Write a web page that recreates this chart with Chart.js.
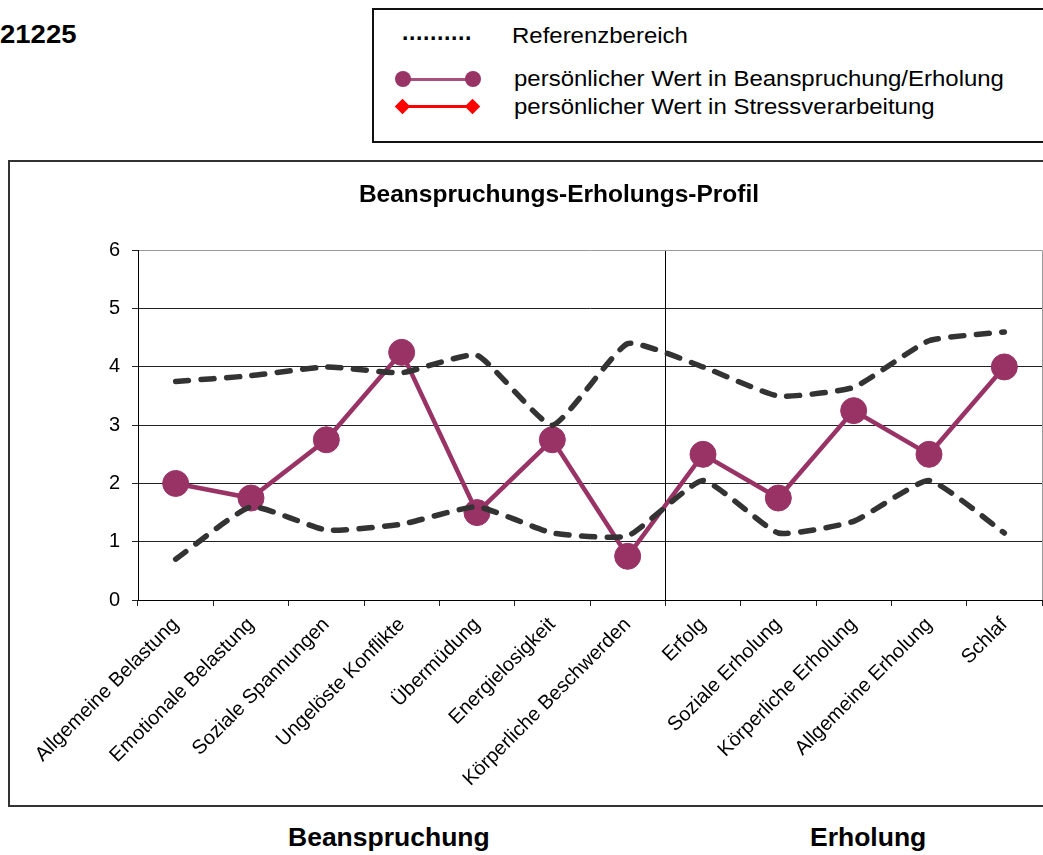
<!DOCTYPE html>
<html lang="de">
<head>
<meta charset="utf-8">
<title>Beanspruchungs-Erholungs-Profil</title>
<script src="https://cdn.jsdelivr.net/npm/chart.js@4.4.0/dist/chart.umd.min.js"></script>
<style>
  html, body { margin: 0; padding: 0; background: #fff; }
  body {
    position: relative; width: 1043px; height: 855px; overflow: hidden;
    font-family: "Liberation Sans", Arial, sans-serif; color: #000;
  }
  .abs { position: absolute; white-space: nowrap; }
  .stretch { transform: scaleX(1.1); transform-origin: left center; }
  #person-id { left: 0; top: 20px; font-size: 25px; font-weight: bold; }
  #legend-box {
    left: 372px; top: 8px; width: 720px; height: 135px;
    border: 2px solid #111; box-sizing: border-box;
  }
  .leg-text { font-size: 21.5px; line-height: 24px; transform: scaleX(1.115); transform-origin: left center; }
  .leg-line { height: 3px; }
  .leg-dot { width: 16px; height: 16px; border-radius: 50%; background: #993366; }
  .leg-diamond { width: 11px; height: 11px; background: #ff0000; transform: rotate(45deg); }
  #chart-box {
    left: 8px; top: 160px; width: 1102px; height: 647px;
    border: 2px solid #333; box-sizing: border-box;
  }
  #chart-wrap { left: 10px; top: 162px; width: 1098px; height: 643px; }
  .section { font-size: 26.5px; font-weight: bold; top: 822px; }
</style>
</head>
<body>
<div id="person-id" class="abs stretch">21225</div>

<div id="legend-box" class="abs"></div>
<div class="abs" style="left:402px; top:19px; font-size:23px; font-weight:bold; letter-spacing:0.6px;">..........</div>
<div class="abs leg-text" style="left:512px; top:24px;">Referenzbereich</div>

<div class="abs leg-line" style="left:403px; top:78px; width:70px; background:#a8507e;"></div>
<div class="abs leg-dot" style="left:395px; top:71px;"></div>
<div class="abs leg-dot" style="left:465px; top:71px;"></div>
<div class="abs leg-text" style="left:514px; top:67px;">persönlicher Wert in Beanspruchung/Erholung</div>

<div class="abs leg-line" style="left:403px; top:105px; width:70px; background:#ff0000;"></div>
<div class="abs leg-diamond" style="left:397px; top:101px;"></div>
<div class="abs leg-diamond" style="left:467px; top:101px;"></div>
<div class="abs leg-text" style="left:514px; top:95px;">persönlicher Wert in Stressverarbeitung</div>

<div id="chart-box" class="abs"></div>
<div id="chart-wrap" class="abs"><canvas id="profile-chart"></canvas></div>

<div class="abs section" style="left:288px;">Beanspruchung</div>
<div class="abs section" style="left:810px;">Erholung</div>

<script>
// ── Data ───────────────────────────────────────────────────────────────────
const categories = [
  "Allgemeine Belastung", "Emotionale Belastung", "Soziale Spannungen",
  "Ungelöste Konflikte", "Übermüdung", "Energielosigkeit",
  "Körperliche Beschwerden", "Erfolg", "Soziale Erholung",
  "Körperliche Erholung", "Allgemeine Erholung", "Schlaf",
];
const personalValues = [2.0, 1.75, 2.75, 4.25, 1.5, 2.75, 0.75, 2.5, 1.75, 3.25, 2.5, 4.0];
const referenceUpper = [3.75, 3.85, 4.0, 3.9, 4.2, 3.0, 4.4, 4.0, 3.5, 3.65, 4.45, 4.6];
const referenceLower = [0.7, 1.6, 1.2, 1.3, 1.6, 1.15, 1.1, 2.05, 1.15, 1.35, 2.05, 1.15];
const yTicks = [0, 1, 2, 3, 4, 5, 6];

// first category of the "Erholung" block, a divider is drawn in front of it
const recoveryStart = 7;

// ── Chart ──────────────────────────────────────────────────────────────────
Chart.defaults.font.family = "'Liberation Sans', Arial, sans-serif";
Chart.defaults.color = "#000";

const refStyle = {
  borderColor:    "#333333",
  borderWidth:    5.5,
  borderDash:     [13, 12.5],
  borderCapStyle: "round",
  pointRadius:    0,
  tension:        0.15,
  fill:           false,
  order:          0,
};

new Chart(document.getElementById("profile-chart"), {
  type: "line",
  data: {
    labels: categories,
    datasets: [
      { label: "Referenz oben",  data: referenceUpper, ...refStyle },
      { label: "Referenz unten", data: referenceLower, ...refStyle },
      {
        label:            "persönlicher Wert",
        data:             personalValues,
        borderColor:      "#993366",
        backgroundColor:  "#993366",
        borderWidth:      4.5,
        pointRadius:      13,
        pointBorderWidth: 1,
        pointBorderColor: "#993366",
        tension:          0,
        order:            1,
      },
    ],
  },
  options: {
    responsive: true,
    maintainAspectRatio: false,
    animation: false,
    events: [],
    layout: { padding: 0 },
    plugins: {
      legend:  { display: false },
      tooltip: { enabled: false },
      title: {
        display: true,
        text: "Beanspruchungs-Erholungs-Profil",
        font: { size: 24.5, weight: "bold" },
        color: "#000",
        padding: { top: 19, bottom: 40 },
      },
    },
    scales: {
      x: {
        type: "category",
        offset: true,
        afterFit: (scale) => {
          // the plot stops short of the frame, which runs past the page edge
          scale.height = 205;
          scale.paddingLeft = 0;
          scale.paddingRight = 66;
        },
        grid: {
          offset: true,
          drawOnChartArea: true,
          tickLength: 6,
          color: (ctx) => {
            if (ctx.type === "scale") return "#999";
            return ctx.index === recoveryStart ? "#000" : "rgba(0,0,0,0)";
          },
          tickColor: "#222",
        },
        border: { color: "#000", width: 1 },
        ticks: {
          autoSkip: false,
          minRotation: 45,
          maxRotation: 45,
          padding: 7,
          font: { size: 20 },
          color: "#000",
        },
      },
      y: {
        min: 0,
        max: 6,
        afterFit: (scale) => { scale.width = 128; },
        afterBuildTicks: (scale) => { scale.ticks = yTicks.map((v) => ({ value: v })); },
        grid: {
          tickLength: 6,
          color: (ctx) => (ctx.tick && ctx.tick.value === 6 ? "#999" : "#222"),
          tickColor: "#222",
        },
        border: { color: "#000", width: 1 },
        ticks: {
          padding: 12,
          font: { size: 20 },
          color: "#000",
        },
      },
    },
  },
});
</script>
</body>
</html>
